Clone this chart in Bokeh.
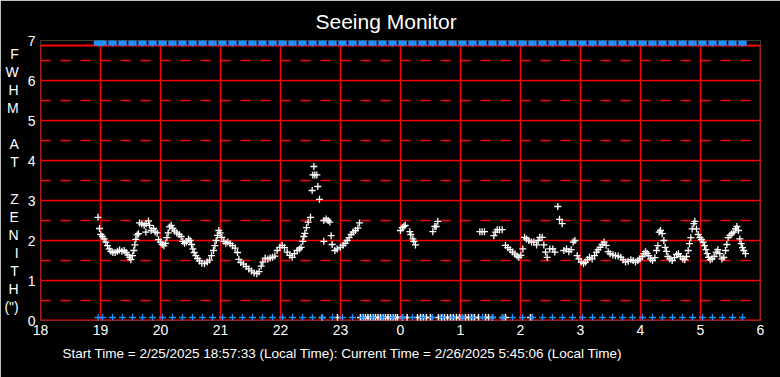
from bokeh.plotting import figure
from bokeh.models import FixedTicker, Title, Range1d
from bokeh.embed import file_html
from bokeh.resources import INLINE

# Hours since midnight of the start day (24 = 0:00 next day)
fwhm_time = [
    18.959, 18.983, 19.006, 19.033, 19.061, 19.089, 19.117, 19.144, 19.172, 19.206,
    19.244, 19.283, 19.317, 19.356, 19.394, 19.428, 19.456, 19.483, 19.506, 19.533,
    19.556, 19.572, 19.589, 19.611, 19.633, 19.650, 19.689, 19.728, 19.756, 19.761,
    19.800, 19.817, 19.844, 19.883, 19.911, 19.944, 19.967, 20.000, 20.028, 20.056,
    20.083, 20.106, 20.128, 20.150, 20.178, 20.206, 20.233, 20.272, 20.311, 20.344,
    20.372, 20.400, 20.433, 20.467, 20.494, 20.517, 20.539, 20.561, 20.589, 20.617,
    20.650, 20.689, 20.733, 20.778, 20.817, 20.850, 20.883, 20.906, 20.928, 20.950,
    20.972, 20.994, 21.022, 21.056, 21.089, 21.122, 21.161, 21.200, 21.244, 21.283,
    21.306, 21.339, 21.383, 21.428, 21.472, 21.517, 21.561, 21.606, 21.644, 21.678,
    21.706, 21.744, 21.789, 21.828, 21.867, 21.906, 21.944, 21.989, 22.028, 22.067,
    22.111, 22.156, 22.194, 22.233, 22.278, 22.317, 22.344, 22.372, 22.389, 22.406,
    22.433, 22.461, 22.500, 22.528, 22.539, 22.556, 22.572, 22.606, 22.622, 22.650,
    22.722, 22.722, 22.761, 22.794, 22.822, 22.844, 22.861, 22.906, 22.944, 23.000,
    23.044, 23.078, 23.111, 23.144, 23.178, 23.211, 23.250, 23.289, 23.317,
    24.000, 24.028, 24.056, 24.078, 24.156, 24.172, 24.206, 24.222, 24.250,
    24.539, 24.572, 24.594, 24.622,
    25.322, 25.361, 25.400, 25.556, 25.583, 25.611, 25.650, 25.694, 25.750, 25.789,
    25.828, 25.867, 25.906, 25.944, 25.972, 26.006, 26.039, 26.067, 26.100, 26.139,
    26.183, 26.222, 26.267, 26.294, 26.322, 26.361, 26.389, 26.417, 26.444, 26.489,
    26.539, 26.572, 26.622, 26.650, 26.694, 26.722, 26.767, 26.806, 26.844, 26.878,
    26.906, 26.944, 26.972, 27.011, 27.050, 27.083, 27.117, 27.150, 27.194, 27.233,
    27.267, 27.294, 27.328, 27.361, 27.394, 27.428, 27.461, 27.494, 27.539, 27.583,
    27.628, 27.672, 27.711, 27.750, 27.794, 27.839, 27.878, 27.917, 27.956, 27.989,
    28.028, 28.056, 28.083, 28.111, 28.139, 28.167, 28.200, 28.239, 28.267, 28.289,
    28.311, 28.333, 28.361, 28.389, 28.411, 28.433, 28.456, 28.489, 28.528, 28.567,
    28.600, 28.633, 28.667, 28.706, 28.739, 28.767, 28.794, 28.817, 28.839, 28.861,
    28.889, 28.906, 28.933, 28.961, 28.989, 29.017, 29.044, 29.067, 29.089, 29.111,
    29.133, 29.161, 29.194, 29.228, 29.261, 29.289, 29.322, 29.356, 29.389, 29.417,
    29.439, 29.461, 29.489, 29.522, 29.556, 29.583, 29.606, 29.633, 29.656, 29.678,
    29.700, 29.722, 29.750,
]
fwhm_value = [
    2.58, 2.30, 2.15, 2.10, 2.04, 1.96, 1.87, 1.79, 1.73, 1.70,
    1.70, 1.73, 1.76, 1.73, 1.75, 1.70, 1.64, 1.58, 1.52, 1.62,
    1.75, 1.89, 2.03, 2.14, 2.17, 2.44, 2.41, 2.38, 2.21, 2.42,
    2.49, 2.38, 2.25, 2.30, 2.21, 2.19, 2.02, 1.96, 1.90, 1.87,
    1.93, 2.07, 2.19, 2.34, 2.38, 2.30, 2.24, 2.19, 2.15, 2.10,
    1.98, 1.93, 1.96, 2.04, 2.00, 1.90, 1.79, 1.70, 1.62, 1.55,
    1.49, 1.43, 1.42, 1.46, 1.51, 1.62, 1.75, 1.87, 2.00, 2.13,
    2.25, 2.19, 2.08, 1.98, 1.93, 1.96, 1.92, 1.87, 1.81, 1.70,
    1.53, 1.45, 1.41, 1.35, 1.29, 1.24, 1.19, 1.17, 1.22, 1.36,
    1.46, 1.56, 1.54, 1.56, 1.58, 1.61, 1.75, 1.83, 1.88, 1.82,
    1.71, 1.63, 1.58, 1.67, 1.75, 1.79, 1.83, 1.98, 2.10, 2.18,
    2.32, 2.46, 2.58, 3.25, 3.64, 3.85, 3.64, 3.64, 3.35, 3.03,
    2.50, 1.98, 2.54, 2.50, 2.46, 2.12, 1.90, 1.75, 1.79, 1.83,
    1.88, 1.93, 2.00, 2.07, 2.15, 2.21, 2.25, 2.31, 2.44,
    2.25, 2.32, 2.35, 2.38, 2.22, 2.15, 2.04, 1.98, 1.89,
    2.22, 2.35, 2.35, 2.48,
    2.22, 2.22, 2.22, 2.12, 2.21, 2.27, 2.27, 2.27, 1.88, 1.82,
    1.77, 1.71, 1.66, 1.61, 1.58, 1.63, 1.79, 2.08, 2.04, 2.00,
    1.96, 1.96, 1.89, 2.00, 2.08, 2.08, 1.89, 1.71, 1.58, 1.79,
    1.79, 1.71, 2.85, 2.53, 2.42, 1.75, 1.79, 1.72, 1.77, 1.96,
    2.00, 1.62, 1.54, 1.46, 1.42, 1.46, 1.52, 1.58, 1.54, 1.62,
    1.71, 1.77, 1.83, 1.90, 1.96, 1.88, 1.72, 1.67, 1.64, 1.62,
    1.61, 1.58, 1.52, 1.46, 1.48, 1.52, 1.50, 1.46, 1.50, 1.54,
    1.60, 1.67, 1.72, 1.68, 1.62, 1.54, 1.50, 1.57, 1.75, 1.87,
    2.21, 2.25, 2.17, 2.00, 1.83, 1.73, 1.60, 1.54, 1.50, 1.57,
    1.65, 1.67, 1.60, 1.54, 1.52, 1.60, 1.75, 1.92, 2.07, 2.29,
    2.42, 2.48, 2.29, 2.15, 2.07, 2.02, 1.96, 1.87, 1.77, 1.67,
    1.58, 1.52, 1.54, 1.60, 1.71, 1.77, 1.67, 1.54, 1.58, 1.75,
    1.90, 2.07, 2.13, 2.17, 2.21, 2.29, 2.35, 2.25, 2.04, 1.92,
    1.82, 1.75, 1.67,
]
# failed measurements, drawn on the baseline
failed_time = [
    22.695, 22.950,
    23.333, 23.375, 23.417, 23.458, 23.500, 23.542, 23.583, 23.625, 23.667, 23.708,
    23.750, 23.792, 23.833, 23.875, 23.917, 23.950, 24.033, 24.110,
    24.283, 24.333, 24.383, 24.433, 24.500,
    24.633, 24.683, 24.733, 24.783, 24.833, 24.883, 24.933, 24.983, 25.033, 25.083,
    25.133, 25.183, 25.233, 25.300,
    25.417, 25.467, 25.533, 25.700, 25.750, 26.167,
]
# status marks: start, then every 10 minutes
status_start = 18 + 57.55 / 60
status_first_slot = 19 + 2 / 60
status_slot_minutes = 10
status_slot_count = 65

x_ticks = list(range(18, 31))
x_tick_labels = [str(h % 24) for h in x_ticks]
y_ticks = list(range(0, 8))
y_half = [k + 0.5 for k in range(0, 7)]

title_text = "Seeing Monitor"
footer_text = "Start Time = 2/25/2025  18:57:33 (Local Time):  Current Time =  2/26/2025 5:45:06  (Local Time)"
y_title_rows = ["F", "W", "H", "M", "", "A", "T", "", "Z", "E", "N", "I", "T", "H", "(\")"]

status_time = [status_start] + [status_first_slot + k * status_slot_minutes / 60
                                for k in range(status_slot_count)]

RED = "#ff0000"
BLUE = "#1e90ff"
FONT = "Liberation Sans"
Y_TOP = 6.875   # top edge of the drawn frame
X0, X1 = x_ticks[0], x_ticks[-1]

p = figure(width=780, height=377, x_range=Range1d(X0, X1), y_range=Range1d(0, 7),
           output_backend="svg", toolbar_location=None,
           min_border_left=40, min_border_right=20, min_border_top=40, min_border_bottom=57,
           background_fill_color="black", border_fill_color="black")
p.outline_line_color = None
p.xgrid.visible = False
p.ygrid.visible = False

# axes
p.xaxis.ticker = FixedTicker(ticks=x_ticks)
p.xaxis.major_label_overrides = {t: l for t, l in zip(x_ticks, x_tick_labels)}
p.yaxis.ticker = FixedTicker(ticks=y_ticks)
for ax in (p.xaxis, p.yaxis):
    ax.axis_line_color = None
    ax.major_tick_line_color = None
    ax.minor_tick_line_color = None
    ax.major_tick_out = 0
    ax.major_tick_in = 0
    ax.minor_tick_out = 0
    ax.minor_tick_in = 0
    ax.major_label_text_color = "white"
    ax.major_label_text_font = FONT
    ax.major_label_text_font_size = "14px"
p.xaxis.major_label_standoff = 4
p.yaxis.major_label_standoff = 5

# stacked vertical axis title
p.yaxis.axis_label = "\n".join(y_title_rows)
p.yaxis.axis_label_orientation = "horizontal"
p.yaxis.axis_label_text_color = "white"
p.yaxis.axis_label_text_font = FONT
p.yaxis.axis_label_text_font_style = "normal"
p.yaxis.axis_label_text_font_size = "14px"
p.yaxis.axis_label_text_line_height = 1.13
p.yaxis.axis_label_text_align = "center"
p.yaxis.axis_label_standoff = 6

# grid lines
hy = [y for y in y_ticks if 0 < y < 7]
p.segment(x0=[X0] * len(hy), x1=[X1] * len(hy), y0=hy, y1=hy, line_color=RED, line_width=1.5)
p.segment(x0=[X0] * len(y_half), x1=[X1] * len(y_half), y0=y_half, y1=y_half,
          line_color=RED, line_width=1.5, line_dash="10 10")
vx = x_ticks[1:-1]
p.segment(x0=vx, x1=vx, y0=[0] * len(vx), y1=[Y_TOP] * len(vx), line_color=RED, line_width=1.5)
# frame border
p.segment(x0=[X0, X1, X0, X0], x1=[X0, X1, X1, X1], y0=[0, 0, 0, Y_TOP], y1=[Y_TOP, Y_TOP, 0, Y_TOP],
          line_color=RED, line_width=2)

# status band at top
p.rect(x=status_time, y=[6.9375] * len(status_time), width=0.14, height=5, height_units="screen",
       fill_color=BLUE, line_color=None)
p.scatter(x=status_time, y=[6.9375] * len(status_time), marker="cross", size=7,
          line_color=BLUE, line_width=1.5)

# data
p.scatter(x=failed_time, y=[0.075] * len(failed_time), marker="cross", size=7,
          line_color="white", line_width=1.5)
p.scatter(x=status_time, y=[0.075] * len(status_time), marker="cross", size=7,
          line_color=BLUE, line_width=1.3)
p.scatter(x=fwhm_time, y=fwhm_value, marker="cross", size=7, line_color="white", line_width=1.3)

# title and footer
p.add_layout(Title(text=title_text, align="left", offset=275, standoff=15,
                   text_color="white", text_font=FONT, text_font_size="21px",
                   text_font_style="normal"), "above")
p.add_layout(Title(text=footer_text, align="left", offset=22, standoff=13,
                   text_color="white", text_font=FONT, text_font_size="13.5px",
                   text_font_style="normal"), "below")

open("out.html", "w").write(file_html(p, INLINE))
